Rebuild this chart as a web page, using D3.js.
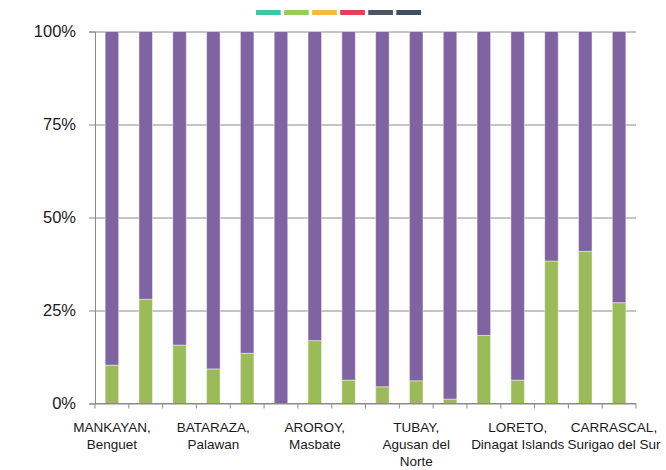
<!DOCTYPE html>
<html>
<head>
<meta charset="utf-8">
<script src="https://cdn.jsdelivr.net/npm/d3@7"></script>
<style>
body { margin: 0; background: #fff; }
text { font-family: "Liberation Sans", Arial, sans-serif; fill: #1a1a1a; }
</style>
</head>
<body>
<div id="chart"></div>
<script>
// 16 bars, only every third one gets a name on the axis
var barIds = ["b1","b2","b3","b4","b5","b6","b7","b8","b9","b10","b11","b12","b13","b14","b15","b16"]
var tickLabels = [
  ["MANKAYAN,", "Benguet"],
  ["BATARAZA,", "Palawan"],
  ["AROROY,", "Masbate"],
  ["TUBAY,", "Agusan del", "Norte"],
  ["LORETO,", "Dinagat Islands"],
  ["CARRASCAL,", "Surigao del Sur"]
]
var labelEvery = 3
var greenShare = [10.3, 28.0, 15.7, 9.3, 13.5, 0, 16.9, 6.3, 4.5, 6.1, 1.2, 18.3, 6.3, 38.3, 40.9, 27.1]
var purpleShare = [89.7, 72.0, 84.3, 90.7, 86.5, 100, 83.1, 93.7, 95.5, 93.9, 98.8, 81.7, 93.7, 61.7, 59.1, 72.9]
var yTicks = [0, 0.25, 0.5, 0.75, 1]
var legendColors = ["#41c7a0", "#98cb5a", "#f0be3c", "#e83f58", "#4f5463", "#3f4e66"]

var W = 666, H = 470
var margin = {top: 31.5, right: 30, bottom: 67, left: 95}
var width = 636 - margin.left, height = 403.5 - margin.top

var svg = d3.select("#chart").append("svg")
  .attr("width", W).attr("height", H)

// legend swatches (no text in the original)
var lx = d3.scaleBand().domain(d3.range(legendColors.length)).range([256, 421]).paddingInner(0.12)
svg.append("g").attr("class", "legend").selectAll("rect")
  .data(legendColors)
  .enter().append("rect")
  .attr("x", function(d, i) { return lx(i) })
  .attr("y", 10)
  .attr("width", lx.bandwidth())
  .attr("height", 5)
  .attr("fill", function(d) { return d })

var g = svg.append("g").attr("transform", "translate(" + margin.left + "," + margin.top + ")")

var x = d3.scaleBand().domain(barIds).range([0, width]).paddingInner(0.6).paddingOuter(0.3)
var y = d3.scaleLinear().domain([0, 1]).range([height, 0])

// grid lines + left axis
var yAxis = g.append("g").attr("class", "y-axis")
  .call(d3.axisLeft(y).tickValues(yTicks).tickFormat(d3.format(".0%")).tickSize(6).tickPadding(13))
yAxis.select(".domain").attr("stroke", "#8a8a8a")
yAxis.selectAll(".tick line").attr("stroke", "#8a8a8a").attr("x2", width)
  .attr("x1", -6)
yAxis.selectAll(".tick text").attr("font-size", 16.5).attr("fill", "#1a1a1a")
  .style("font-family", "'Liberation Sans', Arial, sans-serif")

// stacked bars
var stackData = barIds.map(function(id, i) {
  return {id: id, green: greenShare[i] / 100, purple: purpleShare[i] / 100}
})
var stack = d3.stack().keys(["green", "purple"])(stackData)
var colour = {green: "#9bbb59", purple: "#8064a2"}

g.append("g").attr("class", "bars").selectAll("g")
  .data(stack)
  .enter().append("g")
  .attr("fill", function(s) { return colour[s.key] })
  .selectAll("rect")
  .data(function(s) { return s })
  .enter().append("rect")
  .attr("x", function(d) { return x(d.data.id) })
  .attr("width", x.bandwidth())
  .attr("y", function(d) { return y(d[1]) })
  .attr("height", function(d) { return y(d[0]) - y(d[1]) })
  .attr("stroke", "rgba(255,255,255,0.45)")
  .attr("stroke-width", 1)

// bottom axis: a tick between every bar
var xb = d3.scaleLinear().domain([0, barIds.length]).range([0, width])
var xAxis = g.append("g").attr("transform", "translate(0," + height + ")")
xAxis.append("line").attr("x1", 0).attr("x2", width).attr("stroke", "#8a8a8a")
xAxis.selectAll(".xt")
  .data(d3.range(barIds.length + 1))
  .enter().append("line")
  .attr("class", "xt")
  .attr("x1", function(d) { return xb(d) }).attr("x2", function(d) { return xb(d) })
  .attr("y1", 0).attr("y2", 5)
  .attr("stroke", "#8a8a8a")

var labs = xAxis.selectAll(".xl")
  .data(tickLabels)
  .enter().append("text")
  .attr("class", "xl")
  .attr("text-anchor", "middle")
  .attr("font-size", 13.5)
  .attr("transform", function(d, i) {
    var cx = x(barIds[i * labelEvery]) + x.bandwidth() / 2
    cx = Math.min(cx, W - margin.left - 52)
    return "translate(" + cx + ",0)"
  })
labs.selectAll("tspan")
  .data(function(d) { return d })
  .enter().append("tspan")
  .attr("x", 0)
  .attr("y", function(d, i) { return 28 + i * 17 })
  .text(function(d) { return d })
</script>
</body>
</html>
